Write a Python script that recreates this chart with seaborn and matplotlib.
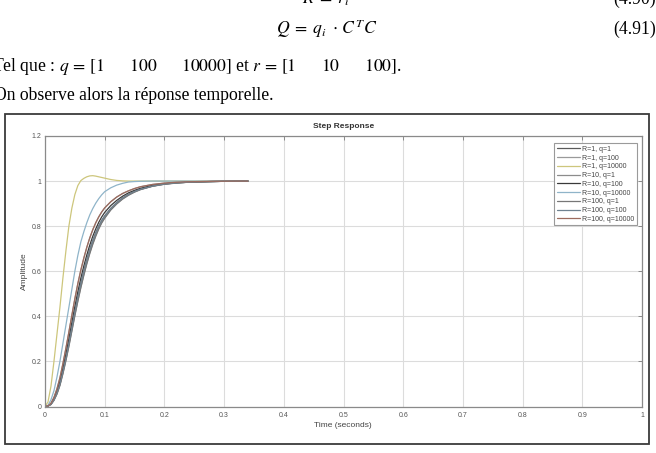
import matplotlib
matplotlib.use("Agg")
import matplotlib.pyplot as plt
from matplotlib.patches import Rectangle
import seaborn as sns
import pandas as pd

# ---------------- data ----------------
t = [0, .005, .01, .015, .02, .025, .03, .035, .04, .045, .05, .055, .06, .065,
     .07, .075, .08, .085, .09, .095, .10, .11, .12, .13, .14, .15, .16, .18,
     .20, .22, .24, .26, .28, .30, .32, .34]

y_r1_q10000 = [0, .02, .09, .20, .32, .44, .57, .69, .80, .88, .94, .98, 1.002, 1.012,
               1.019, 1.023, 1.024, 1.022, 1.019, 1.016, 1.013, 1.007, 1.003, 1.001, 1.0, 1.0, 1.0, 1.0,
               1.0, 1.0, 1.0, 1.0, 1.0, 1.0, 1.0, 1.0]
y_r10_q10000 = [0, .005, .03, .07, .13, .20, .28, .36, .44, .52, .60, .67, .73, .775,
                .815, .85, .878, .902, .922, .939, .953, .970, .982, .990, .996, .998, .999, 1.0,
                1.0, 1.0, 1.0, 1.0, 1.0, 1.0, 1.0, 1.0]
y_ratio100 = [0, .003, .014, .040, .078, .127, .190, .258, .330, .405, .478, .545, .605, .658,
              .706, .748, .784, .815, .841, .863, .881, .908, .929, .945, .957, .967, .975, .985,
              .991, .995, .997, .998, .999, .9995, 1.0, 1.0]
y_ratio10 = [0, .003, .012, .034, .067, .110, .168, .232, .300, .372, .443, .509, .569, .623,
             .672, .716, .755, .788, .817, .841, .861, .891, .914, .933, .948, .959, .968, .981,
             .988, .993, .996, .997, .998, .999, .9995, 1.0]
y_ratio1 = [0, .002, .010, .030, .060, .100, .155, .215, .280, .350, .420, .485, .545, .600,
            .650, .695, .735, .770, .800, .825, .845, .878, .904, .925, .941, .954, .964, .978,
            .987, .992, .995, .997, .998, .999, .9995, 1.0]
y_ratio01 = [0, .002, .009, .028, .056, .095, .147, .206, .270, .338, .406, .470, .530, .585,
             .636, .682, .723, .759, .790, .817, .838, .873, .900, .922, .939, .952, .963, .977,
             .986, .992, .995, .997, .998, .999, .9995, 1.0]
y_ratio001 = [0, .002, .009, .027, .055, .093, .145, .203, .266, .334, .402, .466, .526, .581,
              .632, .678, .719, .755, .787, .814, .835, .871, .898, .920, .937, .951, .962, .977,
              .986, .991, .995, .997, .998, .999, .9995, 1.0]

series_labels = ["R=1, q=1", "R=1, q=100", "R=1, q=10000",
                 "R=10, q=1", "R=10, q=100", "R=10, q=10000",
                 "R=100, q=1", "R=100, q=100", "R=100, q=10000"]
series_values = [y_ratio1, y_ratio100, y_r1_q10000,
                 y_ratio01, y_ratio10, y_r10_q10000,
                 y_ratio001, y_ratio1, y_ratio100]
series_colors = ["#5a5a5a", "#9a9a9a", "#cdc67c",
                 "#8c8c8c", "#3a3a3a", "#8fb4c9",
                 "#777777", "#6f8290", "#9c6b5e"]

x_ticks = [0, .1, .2, .3, .4, .5, .6, .7, .8, .9, 1]
x_tick_labels = ["0", "0.1", "0.2", "0.3", "0.4", "0.5", "0.6", "0.7", "0.8", "0.9", "1"]
y_ticks = [0, .2, .4, .6, .8, 1, 1.2]
y_tick_labels = ["0", "0.2", "0.4", "0.6", "0.8", "1", "1.2"]

# ---------------- build table ----------------
rows = []
for lab, vals in zip(series_labels, series_values):
    for ti, vi in zip(t, vals):
        rows.append({"Time": ti, "Amplitude": vi, "sys": lab})
df = pd.DataFrame(rows)

# ---------------- style ----------------
sns.set_style("white")
plt.rcParams["font.family"] = ["Liberation Sans", "DejaVu Sans"]
plt.rcParams["mathtext.fontset"] = "stix"

W, H = 656, 453
fig = plt.figure(figsize=(W / 100, H / 100), dpi=100)
ax = fig.add_axes([45 / W, 1 - 406.5 / H, (642 - 45) / W, (406.5 - 136) / H])

sns.lineplot(data=df, x="Time", y="Amplitude", hue="sys", hue_order=series_labels,
             palette=dict(zip(series_labels, series_colors)), estimator=None,
             linewidth=0.9, ax=ax, legend=True)

ax.set_xlim(0, 1)
ax.set_ylim(0, 1.2)
ax.set_xticks(x_ticks)
ax.set_xticklabels(x_tick_labels)
ax.set_yticks(y_ticks)
ax.set_yticklabels(y_tick_labels)
ax.set_xlabel("")
ax.set_ylabel("")
ax.grid(True, color="#dcdcdc", linewidth=0.8)
ax.set_axisbelow(True)
for s in ax.spines.values():
    s.set_color("#8a8a8a")
    s.set_linewidth(0.9)
ax.tick_params(axis="both", direction="in", length=3, width=0.7, color="#8a8a8a",
               labelsize=5, labelcolor="#555555", top=True, right=True)
ax.tick_params(axis="x", pad=4.2)
ax.tick_params(axis="y", pad=2.4)

handles, labels = ax.get_legend_handles_labels()
leg = ax.legend(handles, labels, loc="upper right",
                bbox_to_anchor=(637 / W, 1 - 143.4 / H), bbox_transform=fig.transFigure,
                fontsize=5, frameon=True, fancybox=False, shadow=False, framealpha=1,
                borderpad=0.35, labelspacing=0.25, handlelength=3.3, handletextpad=0.4,
                borderaxespad=0)
leg.get_frame().set_edgecolor("#9a9a9a")
leg.get_frame().set_linewidth(0.8)
for txt in leg.get_texts():
    txt.set_color("#444444")

# titles / labels
fig.text(343.5 / W, 1 - 127 / H, "Step Response", ha="center", va="center",
         fontsize=6, fontweight="bold", color="#333333")
fig.text(343 / W, 1 - 425.7 / H, "Time (seconds)", ha="center", va="center",
         fontsize=6, color="#444444")
fig.text(24 / W, 1 - 271 / H, "Amplitude", ha="center", va="center", rotation=90,
         fontsize=6, color="#444444")

# outer frame
fig.add_artist(Rectangle((4.7 / W, 1 - 444.3 / H), (649 - 4.7) / W, (444.3 - 114) / H,
                         transform=fig.transFigure, fill=False, edgecolor="#3a3a3a",
                         linewidth=1.3))

# document text above the chart
serif = ["Liberation Serif", "DejaVu Serif"]
fs = 12.7
fig.text(326 / W, 1 - 4 / H, r"$R\;=\;r_i$", ha="center", va="baseline", fontsize=fs,
         family=serif, color="black")
fig.text(656 / W, 1 - 4 / H, "(4.90)", ha="right", va="baseline", fontsize=fs,
         family=serif, color="black")
fig.text(327 / W, 1 - 34 / H, r"$Q\;=\;q_i\;\cdot\,C^T C$", ha="center", va="baseline",
         fontsize=fs, family=serif, color="black")
fig.text(656 / W, 1 - 34 / H, "(4.91)", ha="right", va="baseline", fontsize=fs,
         family=serif, color="black")
fig.text(-8 / W, 1 - 71 / H,
         r"Tel que : $q\,=\,[1\qquad 100\qquad 10000]$ et $r\,=\,[1\qquad 10\qquad 100]$.",
         ha="left", va="baseline", fontsize=fs, family=serif, color="black")
fig.text(-6 / W, 1 - 100 / H, "On observe alors la réponse temporelle.",
         ha="left", va="baseline", fontsize=fs, family=serif, color="black")

fig.savefig("out.png", dpi=100)
